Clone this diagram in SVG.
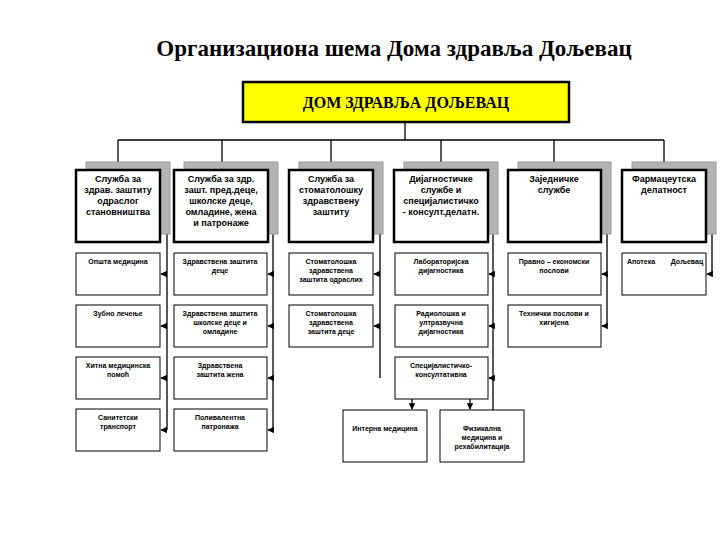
<svg xmlns="http://www.w3.org/2000/svg" width="720" height="540" viewBox="0 0 720 540">
<style>
.t{font-family:"Liberation Serif",serif;font-weight:bold;fill:#000}
.h{font-family:"Liberation Sans",Arial,sans-serif;font-weight:bold;font-size:9px;text-anchor:middle}
.s{font-family:"Liberation Sans",Arial,sans-serif;font-weight:bold;font-size:7px;text-anchor:middle}
.top{fill:#fff;stroke:#000;stroke-width:2.5}
.sh{fill:#b3b3b3;stroke:#999;stroke-width:1}
.sub{fill:#fff;stroke:#000;stroke-width:1}
.c{fill:none;stroke:#000;stroke-width:1.3}
.m{marker-end:url(#a)}
</style>
<defs><marker id="a" viewBox="0 0 10 10" refX="9" refY="5" markerWidth="5" markerHeight="5" orient="auto"><path d="M0,0L10,5L0,10z"/></marker></defs>
<rect width="720" height="540" fill="#fff"/>
<text class="t" x="394" y="56" font-size="23" text-anchor="middle">Организациона шема Дома здравља Дољевац</text>
<g id="main"><rect x="243" y="82" width="326" height="40" fill="#ffff00" stroke="#000" stroke-width="2.5"/><text class="t" x="406" y="108" font-size="16" text-anchor="middle">ДОМ ЗДРАВЉА ДОЉЕВАЦ</text></g>
<g id="connectors">
<path class="c" d="M405,122V140M118,140H664"/>
<path class="c m" d="M118,140V168"/><path class="c m" d="M222,140V168"/><path class="c m" d="M331,140V168"/><path class="c m" d="M441,140V168"/><path class="c m" d="M554,140V168"/><path class="c m" d="M664,140V168"/>
<path class="c" d="M160,200H167V430M267,200H273V430M373,222H380V378M488,200H493V430M601,200H607V326M706,200H712V274"/>
<path class="c m" d="M167,274H161"/><path class="c m" d="M167,326H161"/><path class="c m" d="M167,378H161"/><path class="c m" d="M167,430H161"/>
<path class="c m" d="M273,274H268"/><path class="c m" d="M273,326H268"/><path class="c m" d="M273,378H268"/><path class="c m" d="M273,430H268"/>
<path class="c m" d="M380,274H374"/><path class="c m" d="M380,326H374"/>
<path class="c m" d="M493,274H489"/><path class="c m" d="M493,326H489"/><path class="c m" d="M493,378H489"/>
<path class="c m" d="M607,274H602"/><path class="c m" d="M607,326H602"/>
<path class="c m" d="M712,274H707"/>
<path class="c m" d="M412,399V409"/><path class="c m" d="M470,399V409"/>
</g>
<g id="n1"><rect class="sh" x="86" y="162" width="84" height="72"/><rect class="top" x="76" y="170" width="84" height="72"/><text class="h" x="118" y="182">Служба за</text><text class="h" x="118" y="193">здрав. заштиту</text><text class="h" x="118" y="204">одраслог</text><text class="h" x="118" y="215">становништва</text></g>
<g id="n2"><rect class="sh" x="184" y="162" width="94" height="72"/><rect class="top" x="174" y="170" width="94" height="72"/><text class="h" x="221" y="182">Служба за здр.</text><text class="h" x="221" y="193">зашт. пред.деце,</text><text class="h" x="221" y="204">школске деце,</text><text class="h" x="221" y="215">омладине, жена</text><text class="h" x="221" y="226">и патронаже</text></g>
<g id="n3"><rect class="sh" x="299" y="162" width="84" height="72"/><rect class="top" x="289" y="170" width="84" height="72"/><text class="h" x="331" y="182">Служба за</text><text class="h" x="331" y="193">стоматолошку</text><text class="h" x="331" y="204">здравствену</text><text class="h" x="331" y="215">заштиту</text></g>
<g id="n4"><rect class="sh" x="404" y="162" width="94" height="72"/><rect class="top" x="394" y="170" width="94" height="72"/><text class="h" x="441" y="182">Дијагностичке</text><text class="h" x="441" y="193">службе и</text><text class="h" x="441" y="204">специјалистичко</text><text class="h" x="441" y="215">- консулт.делатн.</text></g>
<g id="n5"><rect class="sh" x="518" y="162" width="93" height="72"/><rect class="top" x="508" y="170" width="93" height="72"/><text class="h" x="554" y="182">Заједничке</text><text class="h" x="554" y="193">службе</text></g>
<g id="n6"><rect class="sh" x="632" y="162" width="84" height="72"/><rect class="top" x="622" y="170" width="84" height="72"/><text class="h" x="664" y="182">Фармацеутска</text><text class="h" x="664" y="193">делатност</text></g>
<g id="s11"><rect class="sub" x="76" y="253" width="84" height="42"/><text class="s" x="118" y="264">Општа медицина</text></g>
<g id="s12"><rect class="sub" x="76" y="305" width="84" height="42"/><text class="s" x="118" y="316">Зубно лечење</text></g>
<g id="s13"><rect class="sub" x="76" y="357" width="84" height="42"/><text class="s" x="118" y="368">Хитна медицинска</text><text class="s" x="118" y="377">помоћ</text></g>
<g id="s14"><rect class="sub" x="76" y="409" width="84" height="42"/><text class="s" x="118" y="420">Санитетски</text><text class="s" x="118" y="429">транспорт</text></g>
<g id="s21"><rect class="sub" x="174" y="253" width="93" height="42"/><text class="s" x="220" y="264">Здравствена заштита</text><text class="s" x="220" y="273">деце</text></g>
<g id="s22"><rect class="sub" x="174" y="305" width="93" height="42"/><text class="s" x="220" y="316">Здравствена заштита</text><text class="s" x="220" y="325">школске деце и</text><text class="s" x="220" y="334">омладине</text></g>
<g id="s23"><rect class="sub" x="174" y="357" width="93" height="42"/><text class="s" x="220" y="368">Здравствена</text><text class="s" x="220" y="377">заштита жена</text></g>
<g id="s24"><rect class="sub" x="174" y="409" width="93" height="42"/><text class="s" x="220" y="420">Поливалентна</text><text class="s" x="220" y="429">патронажа</text></g>
<g id="s31"><rect class="sub" x="289" y="253" width="84" height="42"/><text class="s" x="331" y="264">Стоматолошка</text><text class="s" x="331" y="273">здравствена</text><text class="s" x="331" y="282">заштита одраслих</text></g>
<g id="s32"><rect class="sub" x="289" y="305" width="84" height="42"/><text class="s" x="331" y="316">Стоматолошка</text><text class="s" x="331" y="325">здравствена</text><text class="s" x="331" y="334">заштита деце</text></g>
<g id="s41"><rect class="sub" x="395" y="253" width="93" height="42"/><text class="s" x="441" y="264">Лабораторијска</text><text class="s" x="441" y="273">дијагностика</text></g>
<g id="s42"><rect class="sub" x="395" y="305" width="93" height="42"/><text class="s" x="441" y="316">Радиолошка и</text><text class="s" x="441" y="325">ултразвучна</text><text class="s" x="441" y="334">дијагностика</text></g>
<g id="s43"><rect class="sub" x="395" y="357" width="93" height="42"/><text class="s" x="441" y="368">Специјалистичко-</text><text class="s" x="441" y="377">консултативна</text></g>
<g id="s44"><rect class="sub" x="343" y="410" width="84" height="52"/><text class="s" x="385" y="431">Интерна медицина</text></g>
<g id="s45"><rect class="sub" x="440" y="410" width="84" height="52"/><text class="s" x="482" y="431">Физикална</text><text class="s" x="482" y="440">медицина и</text><text class="s" x="482" y="449">рехабилитација</text></g>
<g id="s51"><rect class="sub" x="508" y="253" width="93" height="42"/><text class="s" x="554" y="264">Правно – економски</text><text class="s" x="554" y="273">послови</text></g>
<g id="s52"><rect class="sub" x="508" y="305" width="93" height="42"/><text class="s" x="554" y="316">Технички послови и</text><text class="s" x="554" y="325">хигијена</text></g>
<g id="s61"><rect class="sub" x="622" y="253" width="84" height="42"/><text class="s" x="641" y="264">Апотека</text><text class="s" x="687" y="264">Дољевац</text></g>
</svg>
